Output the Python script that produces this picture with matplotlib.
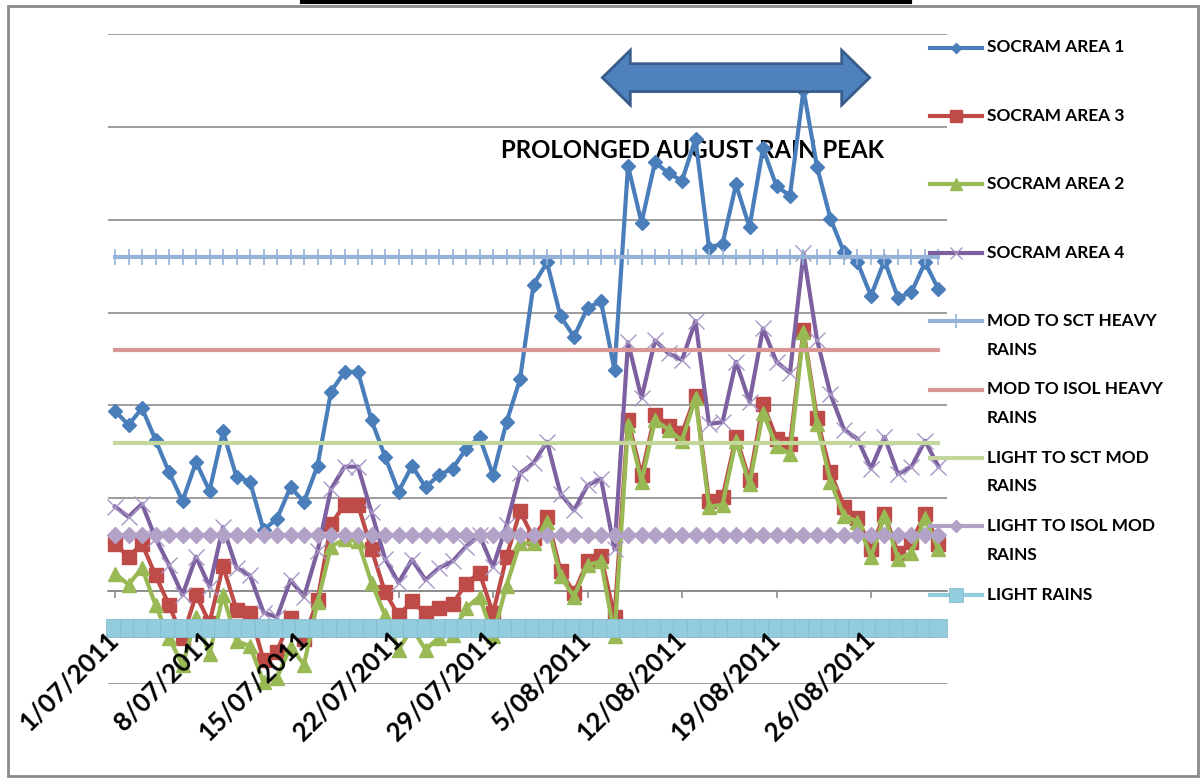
import matplotlib
matplotlib.use("Agg")
import matplotlib.pyplot as plt
from matplotlib.lines import Line2D
from matplotlib.patches import Polygon, Rectangle
import pandas as pd

# --- datos ---
dates = pd.date_range("2011-07-01", "2011-08-31", freq="D")

area1 = [19.4, 17.9, 19.7, 16.3, 12.8, 9.7, 13.9, 10.8, 17.2, 12.3,
         11.8, 6.6, 7.8, 11.2, 9.6, 13.5, 21.5, 23.6, 23.6, 18.4,
         14.5, 10.7, 13.5, 11.2, 12.5, 13.2, 15.3, 16.6, 12.5, 18.2,
         22.8, 33.0, 35.4, 29.6, 27.4, 30.5, 31.2, 23.8, 45.8, 39.7,
         46.2, 45.0, 44.2, 48.7, 37.0, 37.4, 43.8, 39.2, 47.7, 43.6,
         42.6, 54.0, 45.7, 40.1, 36.5, 35.4, 31.8, 35.6, 31.6, 32.2,
         35.4, 32.5]

area3 = [5.1, 3.7, 5.1, 1.7, -1.5, -5.0, -0.4, -3.4, 2.7, -2.0,
         -2.3, -7.4, -6.5, -2.9, -5.1, -1.0, 7.2, 9.3, 9.3, 4.5,
         -0.1, -2.6, -1.1, -2.4, -1.8, -1.4, 0.8, 2.0, -2.4, 3.7,
         8.6, 5.7, 8.0, 2.2, -0.2, 3.2, 3.8, -2.8, 18.4, 12.5,
         19.0, 17.8, 17.0, 21.0, 9.7, 10.1, 16.6, 12.0, 20.2, 16.4,
         15.8, 28.1, 18.6, 12.8, 9.1, 7.9, 4.5, 8.3, 4.1, 5.3,
         8.3, 5.1]

area2 = [1.9, 0.7, 2.5, -1.5, -5.0, -8.0, -2.8, -6.8, -0.4, -5.4,
         -5.9, -9.8, -9.3, -6.0, -7.9, -1.2, 4.8, 5.6, 5.4, 0.9,
         -2.6, -6.3, -4.0, -6.3, -5.0, -4.7, -1.8, -0.6, -4.8, 0.6,
         5.2, 5.2, 7.4, 1.6, -0.6, 2.8, 3.2, -4.8, 17.9, 11.8,
         18.4, 17.4, 16.2, 20.8, 9.1, 9.3, 16.2, 11.5, 19.2, 15.6,
         14.8, 27.9, 18.0, 11.8, 8.1, 7.5, 3.7, 8.1, 3.5, 4.1,
         7.9, 4.5]

area4 = [9.1, 8.0, 9.4, 5.7, 2.8, -0.4, 3.7, 0.5, 6.9, 2.5,
         1.7, -2.3, -2.8, 1.2, -0.6, 4.3, 11.0, 13.4, 13.4, 8.5,
         3.5, 0.9, 3.4, 1.2, 2.5, 3.2, 4.8, 6.0, 2.6, 7.1,
         12.7, 13.8, 16.1, 10.5, 8.7, 11.4, 12.1, 4.5, 26.8, 20.8,
         27.0, 25.6, 24.9, 29.1, 18.0, 18.2, 24.7, 20.4, 28.3, 24.7,
         23.5, 36.4, 27.1, 21.2, 17.4, 16.4, 13.2, 16.6, 12.6, 13.4,
         16.2, 13.4]

umbrales = [36, 26, 16, 6, -4]
nombres_umbral = ["MOD TO SCT HEAVY\nRAINS", "MOD TO ISOL HEAVY\nRAINS",
                  "LIGHT TO SCT MOD\nRAINS", "LIGHT TO ISOL MOD\nRAINS",
                  "LIGHT RAINS"]

W, H = 1203, 779

def fx(x):
    return x / W

def fy(y):
    return 1 - y / H

# --- estilos: (etiqueta, valores, color, marcador, tam, lw, color borde marcador, mew)
x = list(range(len(dates)))
series = [
    ("SOCRAM AREA 1", area1, "#4A7EBB", "D", 7, 3.0, "#4A7EBB", 1),
    ("SOCRAM AREA 3", area3, "#BE4B48", "s", 10, 3.0, "#BE4B48", 1),
    ("SOCRAM AREA 2", area2, "#98B954", "^", 10, 3.0, "#98B954", 1),
    ("SOCRAM AREA 4", area4, "#7D60A0", "x", 11, 3.0, "#A797C4", 1),
]
colores_umbral = ["#95B3D7", "#D99694", "#C3D69B", "#B3A2C7", "#93CDDD"]
marcas_umbral = [("|", 12, 1.2), (None, 0, 0), (None, 0, 0), ("D", 8.2, 1), ("s", 13, 0.6)]
for nombre, nivel, c, (m, ms, mew) in zip(nombres_umbral, umbrales, colores_umbral, marcas_umbral):
    mec = "#86BCCF" if m == "s" else c
    series.append((nombre, [nivel] * len(dates), c, m, ms, 3.0, mec, mew))

fig = plt.figure(figsize=(W / 100, H / 100), dpi=100)
ax = fig.add_axes([fx(108), fy(684), fx(947) - fx(108), fy(34) - fy(684)])

for k, (nombre, vals, c, m, ms, lw, mec, mew) in enumerate(series):
    ax.plot(x, vals, color=c, lw=lw, marker=m, markersize=ms,
            markerfacecolor=c, markeredgecolor=mec, markeredgewidth=mew,
            zorder=3 + k, clip_on=False)

ax.set_xlim(-0.52, 61.63)
ax.set_ylim(-10, 60)
ax.set_yticks(range(-10, 61, 10))
ax.tick_params(axis="y", left=False, labelleft=False)
ax.grid(axis="y", color="#8C8C8C", lw=1.2, zorder=0)
ax.set_axisbelow(False)
ax.yaxis.set_zorder(0.5)
for s in ["left", "right", "top"]:
    ax.spines[s].set_visible(False)
ax.spines["bottom"].set_position(("data", 0))
ax.spines["bottom"].set_color("#8C8C8C")
ax.spines["bottom"].set_linewidth(1.2)
ax.spines["bottom"].set_zorder(0.6)

ticks = x[::7]
etiquetas = [f"{d.day}/{d.month:02d}/{d.year}" for d in dates[::7]]
ax.set_xticks(ticks)
ax.set_xticklabels(etiquetas, rotation=45, ha="right", va="center",
                   rotation_mode="anchor", fontsize=18.5, fontweight="bold",
                   family=["Lato", "DejaVu Sans"])
ax.tick_params(axis="x", direction="out", length=5, width=1.2, color="#8C8C8C", pad=27)
ax.xaxis.set_zorder(30)

# --- flecha doble y texto ---
x0, x1, cy = 36.1, 55.9, 55.3
hl, hh, sh = 2.07, 2.95, 1.5
flecha = Polygon([(x0, cy), (x0 + hl, cy + hh), (x0 + hl, cy + sh), (x1 - hl, cy + sh),
                  (x1 - hl, cy + hh), (x1, cy), (x1 - hl, cy - hh), (x1 - hl, cy - sh),
                  (x0 + hl, cy - sh), (x0 + hl, cy - hh)],
                 closed=True, facecolor="#4F81BD", edgecolor="#385D8A", lw=2, zorder=20)
ax.add_patch(flecha)
ax.text(42.8, 47.5, "PROLONGED AUGUST RAIN PEAK", ha="center", va="center",
        fontsize=17.3, fontweight="bold", family=["Lato", "DejaVu Sans"], zorder=2)

# --- leyenda manual ---
for k, (nombre, vals, c, m, ms, lw, mec, mew) in enumerate(series):
    y = 47.5 + 68.4 * k
    fig.add_artist(Line2D([fx(930), fx(956), fx(982)], [fy(y)] * 3, color=c, lw=lw,
                          marker=m, markevery=[1], markersize=ms * 0.8,
                          markerfacecolor=c, markeredgecolor=mec, markeredgewidth=mew))
    for j, linea in enumerate(nombre.split("\n")):
        fig.text(fx(987), fy(y + 28.5 * j), linea, ha="left", va="center",
                 fontsize=12.4, fontweight="bold", family=["Lato", "DejaVu Sans"])

# --- marco ---
fig.add_artist(Rectangle((fx(8), fy(776)), fx(1198) - fx(8), fy(6) - fy(776),
                         transform=fig.transFigure, fill=False, edgecolor="#8A8A8A", lw=2))
fig.add_artist(Line2D([fx(302), fx(910)], [fy(1.5), fy(1.5)], color="black", lw=3))

fig.savefig("out.png", dpi=100)
